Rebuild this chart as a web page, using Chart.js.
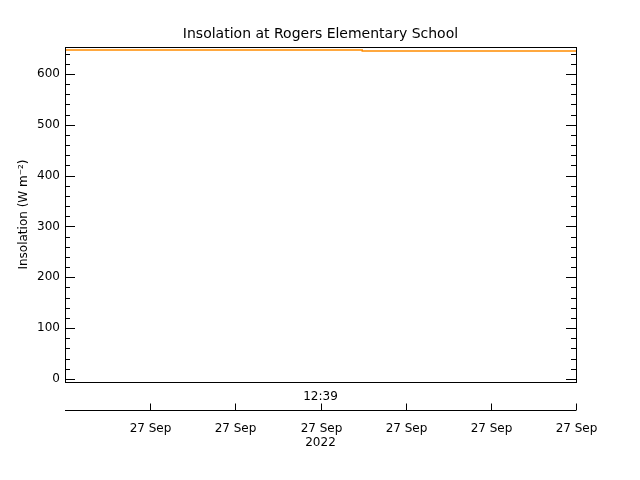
<!DOCTYPE html>
<html><head><style>html,body{margin:0;background:#fff}</style>
<script src="https://cdn.jsdelivr.net/npm/chart.js@4"></script></head>
<body><div style="width:640px;height:480px"><canvas id="c"></canvas></div>
<script>
const timeX = [0, 3.49, 3.49, 6];
const insolation = [647, 647, 645, 645];
const yTicks = [0,100,200,300,400,500,600];
const xTickPos = [1,2,3,4,5,6];
const xTickLabels = ['27 Sep','27 Sep','27 Sep','27 Sep','27 Sep','27 Sep'];
const topLabel = '12:39';
const yearLabel = '2022';
const FONT = '12px "DejaVu Sans", sans-serif';
const axesPlugin = {
  id:'axes',
  afterDraw(ch){
    const c=ch.ctx, a=ch.chartArea, xs=ch.scales.x, ys=ch.scales.y;
    c.save(); c.strokeStyle='#000'; c.fillStyle='#000'; c.lineWidth=1;
    c.strokeRect(a.left+0.5,a.top+0.5,a.right-a.left,a.bottom-a.top);
    c.font=FONT; c.textAlign='right'; c.textBaseline='middle';
    for(let v=0; v<=650; v+=20){
      const y=Math.round(ys.getPixelForValue(v))+0.5;
      const L=(v%100===0)?10:5;
      c.beginPath(); c.moveTo(a.left,y); c.lineTo(a.left+L,y); c.moveTo(a.right,y); c.lineTo(a.right-L,y); c.stroke();
    }
    yTicks.forEach(v=>c.fillText(String(v),a.left-5,ys.getPixelForValue(v)));
    // lower axis
    const yb=410.5;
    c.beginPath(); c.moveTo(a.left,yb); c.lineTo(a.right,yb); c.stroke();
    c.textAlign='center'; c.textBaseline='top';
    xTickPos.forEach((p,i)=>{const x=Math.round(xs.getPixelForValue(p))+0.5;
      c.beginPath(); c.moveTo(x,yb); c.lineTo(x,yb-7); c.stroke();
      c.fillText(xTickLabels[i],x,423);});
    c.fillText(topLabel,xs.getPixelForValue(3),391);
    c.fillText(yearLabel,xs.getPixelForValue(3),437);
    c.font='14px "DejaVu Sans", sans-serif';
    c.fillText('Insolation at Rogers Elementary School',(a.left+a.right)/2,27);
    c.translate(24,(a.top+a.bottom)/2); c.rotate(-Math.PI/2);
    c.font=FONT; c.textBaseline='middle'; c.textAlign='center';
    c.fillText('Insolation (W m\u207B\u00B2)',0,0);
    c.restore();
  }
};
new Chart(document.getElementById('c'),{
  type:'line',
  data:{datasets:[{data:timeX.map((x,i)=>({x,y:insolation[i]})),borderColor:'#ff8c00',borderWidth:1.5,pointRadius:0,tension:0}]},
  options:{responsive:true,maintainAspectRatio:false,animation:false,
    layout:{padding:{left:65,right:64,top:47,bottom:98}},
    plugins:{legend:{display:false},tooltip:{enabled:false}},
    scales:{x:{type:'linear',min:0,max:6,display:false},y:{min:-6,max:653,display:false}}},
  plugins:[axesPlugin]
});
</script></body></html>
